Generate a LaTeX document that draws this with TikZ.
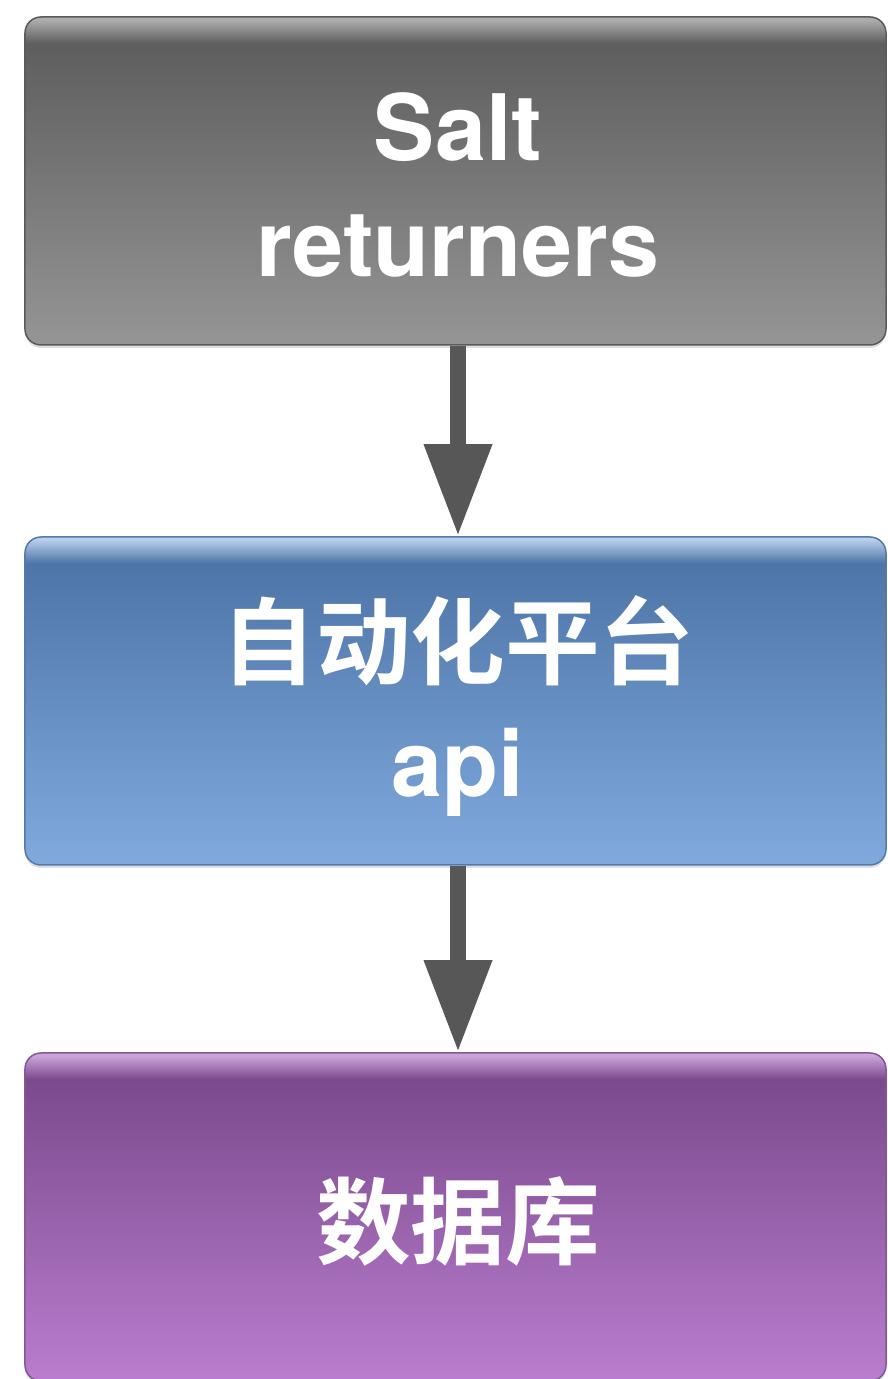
\documentclass[tikz,border=0pt]{standalone}
\usepackage{fontspec}
\setmainfont{TeX Gyre Heros}
\newfontfamily\cjk{Noto Sans CJK SC}[UprightFont=* Bold]
\usetikzlibrary{arrows.meta,shadows}
\definecolor{gA}{HTML}{959595}
\definecolor{gB}{HTML}{5E5E5E}
\definecolor{gC}{HTML}{ADADAD}
\definecolor{bA}{HTML}{80AADE}
\definecolor{bB}{HTML}{4E75A8}
\definecolor{bC}{HTML}{B8CEEA}
\definecolor{pA}{HTML}{BA7DCF}
\definecolor{pB}{HTML}{7B4A8D}
\definecolor{pC}{HTML}{CBA5D8}
\definecolor{grayline}{HTML}{5A5A5A}
\definecolor{blueline}{HTML}{5878A6}
\definecolor{purpleline}{HTML}{85569A}
\definecolor{arrowgray}{HTML}{575757}
\pgfdeclareverticalshading{grayshade}{100bp}{color(0bp)=(gA); color(25bp)=(gA); color(71bp)=(gB); color(74.6bp)=(gC); color(100bp)=(gC)}
\pgfdeclareverticalshading{blueshade}{100bp}{color(0bp)=(bA); color(25bp)=(bA); color(71bp)=(bB); color(74.6bp)=(bC); color(100bp)=(bC)}
\pgfdeclareverticalshading{purpleshade}{100bp}{color(0bp)=(pA); color(25bp)=(pA); color(71bp)=(pB); color(74.6bp)=(pC); color(100bp)=(pC)}
\tikzset{
  box/.style={rectangle, rounded corners=16bp, minimum width=861bp, minimum height=328bp,
    inner sep=0pt, line width=1.5bp,
    drop shadow={shadow xshift=0bp, shadow yshift=-3bp, opacity=0.25}},
  conn/.style={draw=arrowgray, line width=16bp,
    -{Triangle[width=69bp,length=90bp,line width=0pt]}, shorten >=2bp},
  lbl/.style={text=white, inner sep=0pt, font=\fontsize{92}{110}\selectfont\bfseries},
  clbl/.style={text=white, inner sep=0pt, font=\fontsize{95}{110}\selectfont\cjk}
}
\begin{document}
\begin{tikzpicture}[x=1bp,y=1bp]
\useasboundingbox (0,0) rectangle (887,1379);
\fill[white] (0,0) rectangle (887,1379);
% boxes
\node[box, shading=grayshade, draw=grayline] (b1) at (455.5,1198) {};
\node[box, shading=blueshade, draw=blueline] (b2) at (455.5,678) {};
\node[box, shading=purpleshade, draw=purpleline] (b3) at (455.5,162) {};
% connectors
\draw[conn] ([xshift=2.5bp]b1.south) -- ([xshift=2.5bp]b2.north);
\draw[conn] ([xshift=2.5bp]b2.south) -- ([xshift=2.5bp]b3.north);
% texts
\node[lbl, anchor=base] (s1) at (458,1218) {Salt};
\node[lbl, anchor=base] (s2) at (458,1102) {returners};
\node[clbl] (s3) at (458,738) {自动化平台};
\node[lbl, anchor=base] (s4) at (458,582) {api};
\node[clbl] (s5) at (458,157) {数据库};
\end{tikzpicture}
\end{document}
